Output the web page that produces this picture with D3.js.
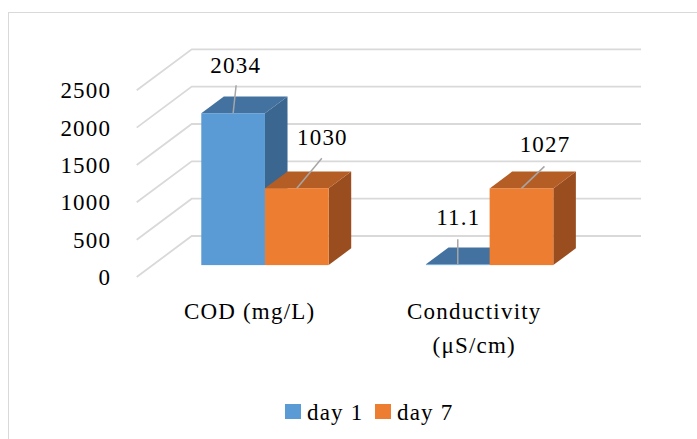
<!DOCTYPE html>
<html>
<head>
<meta charset="utf-8">
<script src="https://cdn.jsdelivr.net/npm/d3@7"></script>
<style>
  html, body { margin: 0; padding: 0; background: #fff; }
  svg { display: block; }
</style>
</head>
<body>
<svg id="chart" width="697" height="439"></svg>
<script>
// Chart data
const categories = [["COD (mg/L)"], ["Conductivity", "(μS/cm)"]];
const seriesNames = ["day 1", "day 7"];
const day1 = [2034, 11.1];
const day7 = [1030, 1027];
const tickValues = [0, 500, 1000, 1500, 2000, 2500];

// Colours: front, top and side faces of each series
const palette = [
  { front: "#5B9BD5", top: "#4472A0", side: "#3A6690" },
  { front: "#ED7D31", top: "#B45E25", side: "#9A4D1E" }
];

// Hand-placed data label offsets (leader end, label centre) from bar top centre
const labelOffsets = [
  [ { lx: 3, ly: -28, tx: 2, ty: -48 }, { lx: 25, ly: -30, tx: 25, ty: -51 } ],
  [ { lx: 0, ly: -25, tx: 0, ty: -47 }, { lx: 23, ly: -22, tx: 23, ty: -44 } ]
];

const FONT = "Liberation Serif";
const FS = 23, LS = 1.2;

const svg = d3.select("#chart");
const W = 697, H = 439;

function styleText(sel) {
  return sel.attr("font-family", FONT)
    .attr("font-size", FS)
    .attr("letter-spacing", LS)
    .attr("fill", "#000");
}

// Outer chart frame
svg.append("rect")
  .attr("x", 8.5).attr("y", 12.5)
  .attr("width", W).attr("height", H)
  .attr("fill", "none").attr("stroke", "#d9d9d9").attr("stroke-width", 1);

// 3D projection: front plane and depth offset
const front = { left: 136.7, right: 586 };
const depth = { dx: 55, dy: -41 };
const barDepth = { f0: 0.29, f1: 0.70 };

const y = d3.scaleLinear().domain([0, 2500]).range([277, 90.3]);
const x = d3.scaleBand()
  .domain(d3.range(categories.length))
  .range([front.left, front.right])
  .paddingInner(0.433).paddingOuter(0.2165);
const xs = d3.scaleBand().domain(d3.range(seriesNames.length)).range([0, x.bandwidth()]);

// Gridlines on side wall and back wall
const grid = svg.append("g").attr("stroke", "#d9d9d9").attr("stroke-width", 1.8).attr("fill", "none");
tickValues.forEach(v => {
  const yf = y(v);
  grid.append("path")
    .attr("d", `M${front.left},${yf}L${front.left + depth.dx},${yf + depth.dy}L${front.right + depth.dx},${yf + depth.dy}`);
});

// Tick labels on the front plane
svg.append("g").selectAll("text").data(tickValues).join("text")
  .call(styleText)
  .attr("x", 111.2).attr("y", d => y(d))
  .attr("dy", "0.35em")
  .attr("text-anchor", "end")
  .text(d => d);

// Bars
const series = [day1, day7];
const bars = [];
categories.forEach((c, ci) => {
  series.forEach((vals, si) => {
    bars.push({ ci, si, v: vals[ci] });
  });
});

const bg = svg.append("g");
bars.forEach(b => {
  const ox = depth.dx * barDepth.f0, oy = depth.dy * barDepth.f0;
  const ddx = depth.dx * (barDepth.f1 - barDepth.f0), ddy = depth.dy * (barDepth.f1 - barDepth.f0);
  const x0 = x(b.ci) + xs(b.si) + ox;
  const x1 = x0 + xs.bandwidth();
  const yb = y(0) + oy;
  const yt = y(b.v) + oy;
  const col = palette[b.si];
  // side face
  bg.append("path")
    .attr("d", `M${x1},${yt}L${x1 + ddx},${yt + ddy}L${x1 + ddx},${yb + ddy}L${x1},${yb}Z`)
    .attr("fill", col.side);
  // top face
  bg.append("path")
    .attr("d", `M${x0},${yt}L${x0 + ddx},${yt + ddy}L${x1 + ddx},${yt + ddy}L${x1},${yt}Z`)
    .attr("fill", col.top);
  // front face
  bg.append("rect")
    .attr("x", x0).attr("y", yt)
    .attr("width", x1 - x0).attr("height", Math.max(0, yb - yt))
    .attr("fill", col.front);
  b.cx = (x0 + x1) / 2;
  b.ty = yt;
});

// Data labels with leader lines
const lg = svg.append("g");
bars.forEach(b => {
  const o = labelOffsets[b.ci][b.si];
  lg.append("line")
    .attr("x1", b.cx).attr("y1", b.ty)
    .attr("x2", b.cx + o.lx).attr("y2", b.ty + o.ly)
    .attr("stroke", "#a6a6a6").attr("stroke-width", 1.5);
  lg.append("text")
    .call(styleText)
    .attr("x", b.cx + o.tx + LS / 2).attr("y", b.ty + o.ty)
    .attr("dy", "0.35em")
    .attr("text-anchor", "middle")
    .text(b.v);
});

// Category labels
categories.forEach((lines, ci) => {
  const cx = x(ci) + x.bandwidth() / 2 + LS / 2;
  const t = svg.append("text")
    .call(styleText)
    .attr("x", cx)
    .attr("y", 319)
    .attr("text-anchor", "middle");
  lines.forEach((ln, i) => {
    t.append("tspan")
      .attr("x", cx)
      .attr("dy", i === 0 ? 0 : 33.5)
      .text(ln);
  });
});

// Legend
const legend = svg.append("g");
const legendX = [285, 375];
seriesNames.forEach((name, i) => {
  legend.append("rect")
    .attr("x", legendX[i]).attr("y", 404)
    .attr("width", 16).attr("height", 15)
    .attr("fill", palette[i].front);
  legend.append("text")
    .call(styleText)
    .attr("x", legendX[i] + 22).attr("y", 411.5)
    .attr("dy", "0.35em")
    .text(name);
});
</script>
</body>
</html>
